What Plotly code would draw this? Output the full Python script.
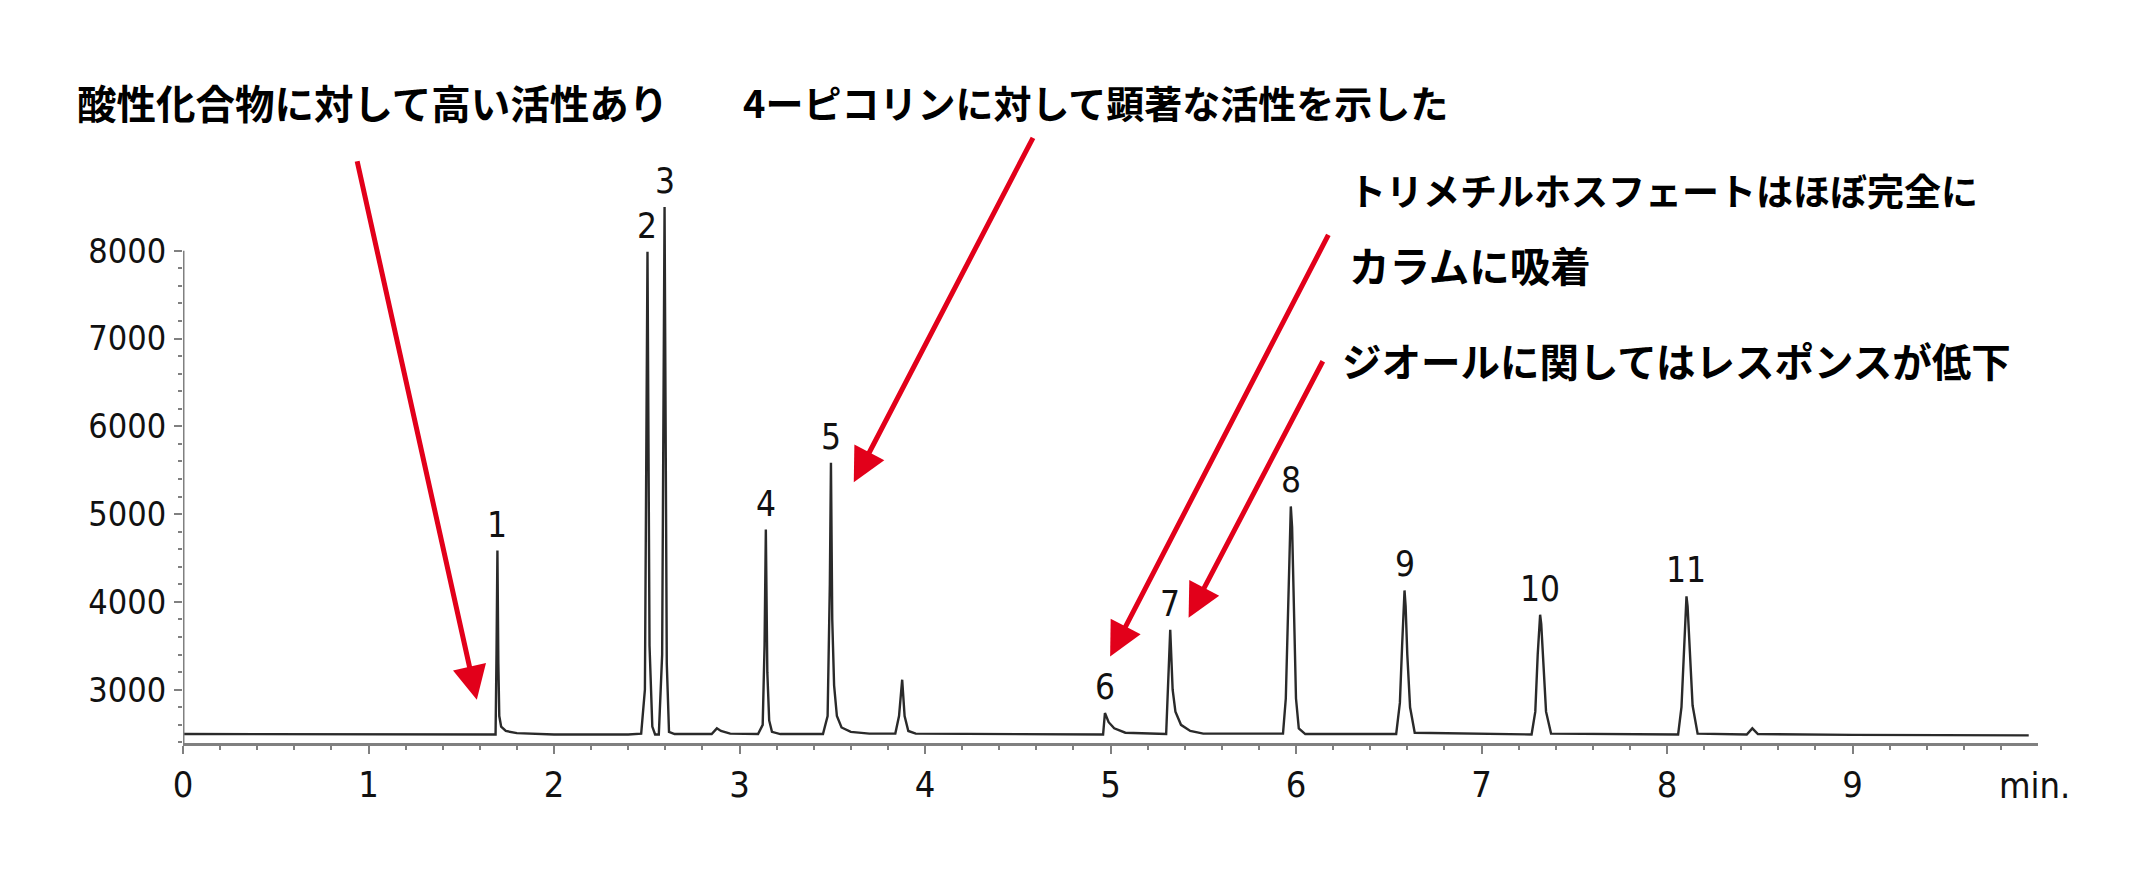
import plotly.graph_objects as go

# Chromatogram trace: retention time (min) and detector signal
time_min = [
    0.00, 0.50, 1.00, 1.50, 1.685, 1.690, 1.695, 1.700, 1.705, 1.715, 1.740, 1.800,
    2.00, 2.40, 2.470, 2.490, 2.504, 2.515, 2.530, 2.545, 2.565, 2.583, 2.596, 2.608,
    2.620, 2.650, 2.850, 2.878, 2.900, 2.950, 3.100, 3.125, 3.135, 3.142, 3.150, 3.160,
    3.175, 3.220, 3.450, 3.475, 3.487, 3.493, 3.500, 3.510, 3.525, 3.550, 3.600, 3.700,
    3.840, 3.860, 3.877, 3.890, 3.910, 3.950, 4.500, 4.960, 4.970, 4.990, 5.020, 5.080,
    5.300, 5.310, 5.322, 5.335, 5.350, 5.380, 5.430, 5.500, 5.930, 5.945, 5.958, 5.966,
    5.972, 5.979, 5.988, 6.000, 6.015, 6.050, 6.540, 6.560, 6.572, 6.580, 6.585, 6.591,
    6.600, 6.615, 6.640, 7.270, 7.290, 7.303, 7.311, 7.316, 7.322, 7.332, 7.348, 7.375,
    8.060, 8.078, 8.092, 8.100, 8.105, 8.111, 8.122, 8.138, 8.165, 8.430, 8.460, 8.490,
    9.000, 9.950,
]
signal = [
    2495, 2492, 2490, 2488, 2490, 3400, 4585, 3300, 2700, 2580, 2530, 2505,
    2490, 2490, 2500, 3000, 7990, 3500, 2580, 2490, 2490, 3400, 8500, 3300,
    2520, 2495, 2495, 2560, 2530, 2500, 2495, 2600, 3500, 4825, 3200, 2650,
    2520, 2495, 2495, 2700, 4200, 5585, 3800, 3050, 2700, 2570, 2520, 2500,
    2500, 2700, 3114, 2700, 2530, 2500, 2490, 2490, 2735, 2630, 2560, 2510,
    2495, 3100, 3683, 3000, 2750, 2600, 2530, 2500, 2500, 2900, 4000, 4850,
    5088, 4850, 4000, 2900, 2560, 2495, 2495, 2850, 3500, 4000, 4131, 3950,
    3400, 2800, 2510, 2490, 2750, 3400, 3780, 3854, 3750, 3300, 2750, 2500,
    2490, 2800, 3550, 3980, 4063, 3950, 3450, 2820, 2500, 2490, 2560, 2495,
    2485, 2480,
]

# Numbered peaks: label, apex time, apex signal
peak_labels = ["1", "2", "3", "4", "5", "6", "7", "8", "9", "10", "11"]
peak_times = [1.695, 2.504, 2.596, 3.142, 3.493, 4.970, 5.322, 5.972, 6.585, 7.316, 8.105]
peak_apex = [4585, 7990, 8500, 4825, 5585, 2735, 3683, 5088, 4131, 3854, 4063]

# Axis ticks
x_ticks = [0, 1, 2, 3, 4, 5, 6, 7, 8, 9]
y_ticks = [3000, 4000, 5000, 6000, 7000, 8000]
x_range = [0, 10]
y_range = [2393, 9000]

# Remarks (Japanese)
remark_texts = [
    "酸性化合物に対して高い活性あり",
    "4ーピコリンに対して顕著な活性を示した",
    "トリメチルホスフェートはほぼ完全に",
    "カラムに吸着",
    "ジオールに関してはレスポンスが低下",
]
# Placement of each remark: left edge px, centre px, font size
remark_left = [75, 741, 1347, 1347, 1340]
remark_mid = [102, 102, 190, 265, 360]
remark_size = [39.5, 38, 37, 40.5, 39.5]

# Red arrows: tips (time, signal) and tail offsets in pixels
arrow_tips = [(1.584, 2886), (3.616, 5363), (4.998, 3379), (5.421, 3820)]
arrow_tails = [(-120, -540), (180, -346), (219, -423), (135, -258)]

W, H = 2133, 879
L, R, T, B = 182.8, 95.2, 163.2, 135.7
PW, PH = W - L - R, H - T - B

AXIS_GRAY = "#808080"
NUM_FONT = "Liberation Sans Narrow, DejaVu Sans Condensed, Arial Narrow, sans-serif"
JP_FONT = "Noto Sans CJK JP"
RED = "#e2001a"

fig = go.Figure()
fig.add_trace(go.Scatter(
    x=time_min, y=signal, mode="lines",
    line=dict(color="#2a2a2a", width=2.4),
    hoverinfo="skip", showlegend=False,
))

# y axis line only up to the 8000 tick
fig.add_shape(type="line", xref="x", yref="y",
              x0=0, x1=0, y0=y_range[0], y1=y_ticks[-1],
              line=dict(color=AXIS_GRAY, width=3))

annotations = []
for lab, t, v in zip(peak_labels, peak_times, peak_apex):
    annotations.append(dict(
        x=t, y=v, xref="x", yref="y", text=lab, showarrow=False,
        yanchor="bottom", yshift=4,
        font=dict(family=NUM_FONT, size=35, color="#111"),
    ))

for txt, px, py, fs in zip(remark_texts, remark_left, remark_mid, remark_size):
    annotations.append(dict(
        x=(px - L) / PW, y=(T + PH - py) / PH, xref="paper", yref="paper",
        text="<b>" + txt + "</b>", showarrow=False,
        xanchor="left", yanchor="middle",
        font=dict(family=JP_FONT, size=fs, color="#000"),
    ))

for (t, v), (ax, ay) in zip(arrow_tips, arrow_tails):
    annotations.append(dict(
        x=t, y=v, xref="x", yref="y", ax=ax, ay=ay, text="",
        showarrow=True, arrowhead=2, arrowsize=1.35, arrowwidth=5,
        arrowcolor=RED, standoff=0, startstandoff=0,
    ))

annotations.append(dict(
    x=9.98, y=(T + PH - 786) / PH, xref="x", yref="paper", text="min.",
    showarrow=False, xanchor="center", yanchor="middle",
    font=dict(family=NUM_FONT, size=36, color="#111"),
))

fig.update_layout(
    width=W, height=H,
    margin=dict(l=L, r=R, t=T, b=B, pad=0),
    paper_bgcolor="white", plot_bgcolor="white",
    annotations=annotations,
    xaxis=dict(
        range=x_range, tickvals=x_ticks, ticktext=[str(v) for v in x_ticks],
        showgrid=False, zeroline=False,
        showline=True, linecolor=AXIS_GRAY, linewidth=3,
        ticks="outside", ticklen=8, tickwidth=2, tickcolor=AXIS_GRAY,
        ticklabelstandoff=0,
        minor=dict(tickvals=[i / 5 for i in range(0, 50) if i % 5], ticks="outside",
                   ticklen=4, tickwidth=2, tickcolor=AXIS_GRAY),
        tickfont=dict(family=NUM_FONT, size=36, color="#111"),
    ),
    yaxis=dict(
        range=y_range, tickvals=y_ticks, ticktext=[str(v) for v in y_ticks],
        showgrid=False, zeroline=False, showline=False,
        ticks="outside", ticklen=8, tickwidth=2, tickcolor=AXIS_GRAY,
        ticklabelstandoff=1,
        minor=dict(tickvals=[2400 + 200 * i for i in range(29) if (2400 + 200 * i) % 1000],
                   ticks="outside", ticklen=4, tickwidth=2, tickcolor=AXIS_GRAY),
        tickfont=dict(family=NUM_FONT, size=34, color="#111"),
    ),
)

fig.write_html("out.html")
